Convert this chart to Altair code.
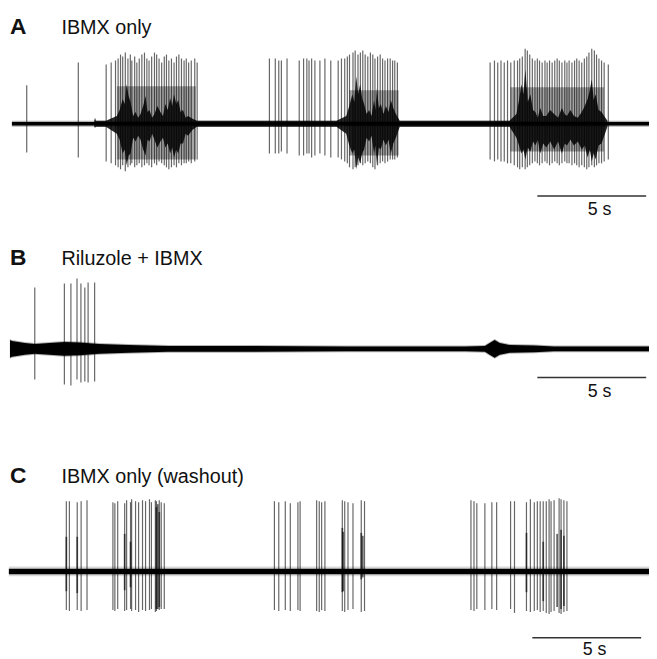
import altair as alt
import pandas as pd

# ------------------------------------------------------------------
# Panel A : IBMX only   (time in s, amplitude in arbitrary units)
# ------------------------------------------------------------------
A_iso_t = [0.68, 3.05]
A_iso_up = [39, 62]
A_iso_dn = [29, 34]

A_b1_t = [4.33, 4.56, 4.76, 4.88, 4.99, 5.09, 5.21, 5.33, 5.44, 5.51, 5.64, 5.74,
          5.85, 5.97, 6.09, 6.20, 6.30, 6.42, 6.55, 6.65, 6.76, 6.88, 7.00, 7.10,
          7.21, 7.33, 7.45, 7.56, 7.67, 7.79, 7.91, 8.01, 8.12, 8.24, 8.40, 8.51]
A_b1_up = [60, 62, 64, 66, 70, 68, 72, 66, 70, 64, 68, 62, 66, 70, 72, 66, 64, 68,
           72, 70, 66, 62, 68, 70, 64, 66, 62, 68, 70, 66, 64, 66, 62, 64, 66, 62]
A_b1_dn = [38, 40, 42, 44, 46, 42, 48, 44, 42, 40, 44, 42, 40, 44, 42, 40, 42, 44,
           40, 42, 38, 40, 42, 44, 46, 44, 42, 44, 40, 42, 40, 40, 38, 40, 38, 36]

A_b2_t = [11.83, 12.10, 12.26, 12.38, 12.64, 13.20, 13.40, 13.55, 13.65, 13.77,
          13.92, 14.15, 14.38, 14.65, 14.99, 15.14, 15.29, 15.41, 15.51, 15.67,
          15.77, 15.90, 16.01, 16.12, 16.23, 16.35, 16.47, 16.58, 16.68, 16.80,
          16.92, 17.03, 17.14, 17.26, 17.38, 17.49, 17.59, 17.71]
A_b2_up = [66, 66, 64, 64, 66, 64, 66, 66, 64, 66, 64, 64, 66, 64, 64, 66, 66, 68, 70,
           72, 74, 70, 72, 74, 70, 68, 72, 70, 66, 68, 70, 66, 64, 66, 66, 64, 64, 62]
A_b2_dn = [30, 30, 30, 28, 30, 32, 32, 30, 30, 34, 32, 30, 32, 34, 34, 36, 38, 40, 44,
           46, 44, 42, 40, 42, 40, 38, 40, 44, 46, 42, 40, 38, 40, 38, 36, 36, 36, 34]

A_b3_t = [21.97, 22.17, 22.32, 22.47, 22.62, 22.77, 22.92, 23.08, 23.23, 23.33,
          23.45, 23.58, 23.68, 23.79, 23.91, 24.03, 24.14, 24.24, 24.36, 24.49,
          24.59, 24.70, 24.82, 24.94, 25.05, 25.15, 25.27, 25.40, 25.50, 25.60,
          25.73, 25.85, 25.95, 26.06, 26.18, 26.30, 26.41, 26.51, 26.64, 26.76,
          26.86, 26.97, 27.09, 27.21, 27.40]
A_b3_up = [62, 64, 62, 64, 62, 64, 62, 64, 64, 66, 68, 76, 74, 70, 66, 64, 66, 64, 62,
           64, 62, 64, 62, 64, 66, 64, 62, 64, 62, 64, 62, 64, 66, 64, 62, 66, 68, 72,
           76, 74, 70, 66, 64, 62, 60]
A_b3_dn = [36, 38, 36, 38, 38, 40, 40, 42, 44, 46, 44, 46, 44, 42, 40, 38, 40, 42, 40,
           38, 40, 42, 40, 38, 40, 42, 40, 38, 40, 40, 42, 40, 42, 44, 42, 44, 46, 44,
           42, 44, 42, 40, 40, 38, 36]

# dense (black) cores of the bursts: envelope above / below baseline
A_core_t = [3.78, 3.82, 3.86,
            4.32, 4.82, 4.95, 5.09, 5.18, 5.27, 5.36, 5.45, 5.57, 5.68, 5.80, 5.91,
            6.03, 6.14, 6.23, 6.32, 6.44, 6.55, 6.68, 6.82, 6.94, 7.05, 7.16, 7.27,
            7.36, 7.45, 7.55, 7.64, 7.75, 7.86, 7.98, 8.09, 8.30, 8.50,
            14.91, 15.36, 15.50, 15.64, 15.73, 15.82, 15.91, 16.00, 16.09, 16.18,
            16.30, 16.41, 16.52, 16.64, 16.70, 16.77, 16.86, 16.95, 17.07, 17.18,
            17.30, 17.41, 17.52, 17.64, 17.82,
            22.86, 23.18, 23.30, 23.41, 23.50, 23.59, 23.70, 23.82, 23.94, 24.05,
            24.16, 24.27, 24.41, 24.55, 24.73, 24.91, 25.09, 25.27, 25.39, 25.50,
            25.66, 25.82, 26.00, 26.18, 26.32, 26.45, 26.55, 26.64, 26.73, 26.82,
            26.95, 27.09, 27.36]
A_core_up = [3, 6, 3,
             3, 8, 14, 25, 20, 40, 28, 22, 8, 12, 6, 10, 18, 28, 12, 14, 6, 10, 18,
             12, 8, 20, 14, 26, 18, 30, 20, 24, 12, 14, 6, 8, 5, 3,
             3, 8, 18, 30, 22, 48, 30, 40, 26, 20, 10, 14, 8, 24, 14, 36, 16, 20, 10,
             18, 12, 24, 16, 10, 3,
             3, 10, 24, 40, 30, 55, 22, 30, 14, 12, 6, 16, 8, 8, 14, 10, 6, 16, 10,
             8, 14, 8, 6, 12, 18, 25, 34, 45, 24, 30, 14, 12, 3]
A_core_dn = [3, 4, 3,
             3, 10, 16, 30, 26, 42, 32, 30, 14, 18, 12, 16, 26, 32, 16, 18, 10, 16,
             24, 18, 14, 24, 20, 30, 24, 34, 26, 30, 20, 20, 10, 12, 6, 3,
             3, 10, 22, 30, 26, 46, 34, 40, 30, 26, 14, 18, 12, 30, 22, 42, 24, 26,
             16, 22, 16, 30, 20, 14, 3,
             3, 14, 22, 30, 26, 36, 24, 28, 18, 22, 16, 30, 20, 24, 18, 26, 18, 30,
             20, 22, 16, 22, 18, 26, 22, 34, 26, 38, 30, 36, 22, 20, 3]

# medium-grey bands of overlapping spikes: (start, end, up, down)
A_band = [(4.82, 8.45, 38, 36), (15.50, 17.77, 34, 32), (22.90, 27.20, 37, 28)]

# ------------------------------------------------------------------
# Panel B : Riluzole + IBMX
# ------------------------------------------------------------------
B_spike_t = [1.05, 2.41, 2.71, 2.99, 3.17, 3.35, 3.50, 3.80]
B_spike_up = [62, 66, 66, 71, 66, 62, 67, 67]
B_spike_dn = [31, 36, 37, 31, 34, 33, 34, 33]

B_noise_t = [-0.09, 0.0, 0.59, 1.05, 1.73, 2.41, 3.09, 4.0, 5.36, 7.18, 10.82,
             15.36, 20.82, 21.73, 21.95, 22.18, 22.41, 22.86, 24.0, 24.91, 29.27]
B_noise_h = [9, 8, 6, 5, 6, 7, 6.5, 5, 4, 3, 3, 2.5, 2.5, 3, 6, 9, 6, 4, 3.5, 2.5, 2.5]

# ------------------------------------------------------------------
# Panel C : IBMX only (washout)
# ------------------------------------------------------------------
C_b1_t = [2.50, 2.64, 3.00, 3.18, 3.45]
C_b1_up = [71, 71, 70, 71, 72]
C_b1_dn = [39, 40, 39, 40, 39]

C_b2_t = [4.64, 4.73, 4.86, 5.18, 5.27, 5.45, 5.50, 5.68, 5.82, 6.00, 6.14, 6.32,
          6.41, 6.59, 6.64, 6.77, 6.86, 7.00]
C_b2_up = [70, 69, 71, 69, 72, 70, 73, 71, 70, 72, 71, 73, 70, 72, 71, 72, 70, 69]
C_b2_dn = [39, 40, 38, 40, 39, 38, 40, 39, 41, 39, 40, 39, 38, 41, 40, 39, 38, 38]

C_b3_t = [12.06, 12.26, 12.56, 12.79, 13.14, 13.24, 14.00, 14.12, 14.23, 14.38,
          15.18, 15.29, 15.44, 15.67, 16.05, 16.20]
C_b3_up = [71, 70, 71, 69, 70, 71, 72, 71, 70, 71, 72, 71, 70, 69, 72, 71]
C_b3_dn = [39, 40, 39, 40, 39, 40, 40, 41, 39, 40, 40, 41, 39, 38, 41, 40]

C_b4_t = [21.09, 21.23, 21.36, 21.73, 22.05, 22.27, 22.91, 23.09, 23.64, 23.82,
          24.00, 24.14, 24.27, 24.41, 24.55, 24.68, 24.77, 24.91, 25.14, 25.23,
          25.36, 25.50]
C_b4_up = [72, 71, 69, 69, 70, 70, 71, 71, 70, 73, 70, 71, 71, 71, 71, 73, 71, 72,
           74, 73, 72, 71]
C_b4_dn = [39, 40, 38, 39, 38, 39, 38, 42, 40, 41, 40, 39, 41, 40, 42, 43, 41, 40,
           42, 43, 41, 40]

C_dark_t = [2.50, 3.00, 5.18, 5.45, 6.64, 6.70, 6.77, 15.18, 15.22, 16.05, 16.12,
            23.64, 24.41, 25.05, 25.23, 25.36]
C_dark_up = [35, 35, 38, 30, 65, 68, 60, 44, 40, 39, 36, 39, 30, 38, 42, 36]
C_dark_dn = [20, 22, 19, 16, 38, 38, 36, 21, 20, 8, 6, 21, 30, 36, 38, 35]

LETTERS = ["A", "B", "C"]
TITLES = ["IBMX only", "Riluzole + IBMX", "IBMX only (washout)"]
SCALE_TEXT = "5 s"

# ------------------------------------------------------------------
# layout constants
# ------------------------------------------------------------------
W = 648
X_DOMAIN = [-0.18, 29.27]
FONT = "Liberation Sans"


def spikes_df(ts, ups, dns):
    d = pd.DataFrame({"t": ts, "up": ups, "dn": dns})
    d["lo"] = -d["dn"]
    return d


def xs():
    return alt.X("t:Q", scale=alt.Scale(domain=X_DOMAIN, nice=False, zero=False), axis=None)


def ys(field, dom):
    return alt.Y(f"{field}:Q", scale=alt.Scale(domain=dom, nice=False, zero=False), axis=None)


def panel(height, ydom, layers_spec, letter, title, label_y, bar, text_pos):
    layers = []
    for kind, df, style in layers_spec:
        if kind == "rule":
            m = alt.Chart(df).mark_rule(**style)
        else:
            m = alt.Chart(df).mark_area(**style)
        layers.append(m.encode(x=xs(), y=ys("up", ydom), y2="lo:Q"))
    # scale bar
    bdf = pd.DataFrame({"t": [bar[0]], "t2": [bar[1]], "up": [bar[2]]})
    layers.append(alt.Chart(bdf).mark_rule(color="#333333", strokeWidth=1.6).encode(
        x=xs(), x2="t2:Q", y=ys("up", ydom)))
    tdf = pd.DataFrame({"t": [text_pos[0]], "up": [text_pos[1]], "s": [SCALE_TEXT]})
    layers.append(alt.Chart(tdf).mark_text(font=FONT, fontSize=18, align="center",
                                           baseline="alphabetic", color="#111111").encode(
        x=xs(), y=ys("up", ydom), text="s:N"))
    # panel label
    ldf = pd.DataFrame({"s": [letter]})
    layers.append(alt.Chart(ldf).mark_text(font=FONT, fontSize=23, fontWeight="bold",
                                           align="left", baseline="alphabetic",
                                           color="#111111").encode(
        x=alt.value(2), y=alt.value(label_y), text="s:N"))
    tdf2 = pd.DataFrame({"s": [title]})
    layers.append(alt.Chart(tdf2).mark_text(font=FONT, fontSize=20, align="left",
                                            baseline="alphabetic", color="#111111").encode(
        x=alt.value(54), y=alt.value(label_y), text="s:N"))
    return alt.layer(*layers).properties(width=W, height=height)


spike_style = dict(color="black", opacity=0.6, strokeWidth=1.2)
core_style = dict(color="black", opacity=0.85, interpolate="linear")
band_style = dict(color="black", opacity=0.35)
base_style = dict(color="black", opacity=1.0)
fuzz_style = dict(color="black", opacity=0.3)

# ---- A
A_spk = spikes_df(A_iso_t + A_b1_t + A_b2_t + A_b3_t,
                  A_iso_up + A_b1_up + A_b2_up + A_b3_up,
                  A_iso_dn + A_b1_dn + A_b2_dn + A_b3_dn)
A_core = spikes_df(A_core_t, A_core_up, A_core_dn)
A_band_df = pd.concat([spikes_df([b[0], b[1]], [b[2], b[2]], [b[3], b[3]]).assign(g=i)
                       for i, b in enumerate(A_band)])
A_base = spikes_df([0.0, 29.27], [1.8, 1.8], [1.8, 1.8])
A_fuzz = spikes_df([0.0, 29.27], [3.0, 3.0], [3.0, 3.0])

band_layers = [("area", A_band_df[A_band_df.g == i], band_style) for i in range(len(A_band))]
pA = panel(232, [-118.5, 113.5],
           [("area", A_fuzz, fuzz_style), ("area", A_base, base_style)] + band_layers +
           [("rule", A_spk, spike_style), ("area", A_core, core_style)],
           LETTERS[0], TITLES[0], 23, (24.14, 29.14, -73), (27.0, -92.5))

# ---- B
B_spk = spikes_df(B_spike_t, B_spike_up, B_spike_dn)
B_noise = spikes_df(B_noise_t, B_noise_h, B_noise_h)
B_fuzz = spikes_df(B_noise_t, [h + 1.0 for h in B_noise_h], [h + 1.0 for h in B_noise_h])
pB = panel(220, [-111, 109],
           [("area", B_fuzz, fuzz_style), ("area", B_noise, base_style),
            ("rule", B_spk, spike_style)],
           LETTERS[1], TITLES[1], 24, (24.14, 29.14, -29), (27.0, -49))

# ---- C
C_spk = spikes_df(C_b1_t + C_b2_t + C_b3_t + C_b4_t,
                  C_b1_up + C_b2_up + C_b3_up + C_b4_up,
                  C_b1_dn + C_b2_dn + C_b3_dn + C_b4_dn)
C_dark = spikes_df(C_dark_t, C_dark_up, C_dark_dn)
C_base = spikes_df([-0.14, 29.27], [2.8, 2.8], [2.8, 2.8])
C_fuzz = spikes_df([-0.14, 29.27], [5.0, 5.0], [5.0, 5.0])
pC = panel(199, [-85, 114],
           [("area", C_fuzz, dict(color="black", opacity=0.15)), ("area", C_base, base_style),
            ("rule", C_spk, spike_style),
            ("rule", C_dark, dict(color="black", opacity=0.6, strokeWidth=1.8))],
           LETTERS[2], TITLES[2], 25, (23.91, 28.91, -67), (26.77, -84))

chart = alt.vconcat(pA, pB, pC, spacing=0).resolve_scale(
    x="independent", y="independent").properties(
    padding={"left": 0, "top": 0, "right": 0, "bottom": 0}).configure_view(
    strokeWidth=0, stroke=None)

chart.save("out.html", embed_options={"renderer": "svg", "actions": False})
